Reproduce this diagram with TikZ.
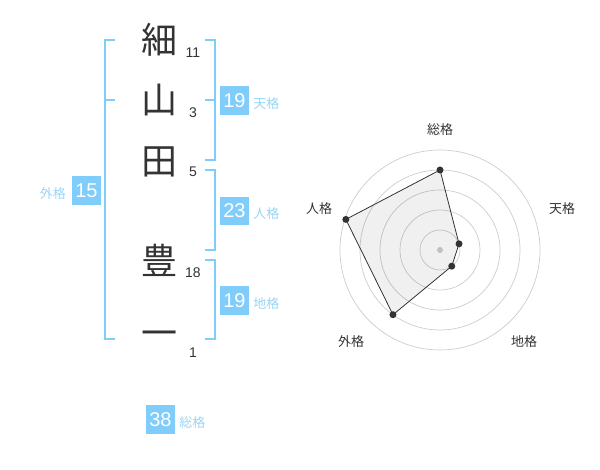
\documentclass[tikz,border=0pt]{standalone}
\usepackage{fontspec}
\setmainfont{Liberation Sans}
\newfontfamily\jpfont{Noto Sans CJK JP}
\usetikzlibrary{positioning}

\definecolor{kakublue}{HTML}{80CCFA}
\definecolor{kakutext}{HTML}{99D5F5}
\definecolor{ink}{HTML}{333333}
\definecolor{ringgray}{HTML}{CCCCCC}

\begin{document}
\begin{tikzpicture}[x=1pt, y=-1pt]
\tikzstyle{kanji}=[font=\jpfont\fontsize{36}{36}\selectfont, text=ink, inner sep=0pt]
\tikzstyle{stroke}=[font=\fontsize{14}{14}\selectfont, text=ink, inner sep=0pt]
\tikzstyle{kaku}=[fill=kakublue, text=white, font=\fontsize{20}{20}\selectfont, minimum size=28.7pt, inner sep=0pt]
\tikzstyle{kakuname}=[font=\jpfont\fontsize{13}{13}\selectfont, text=kakutext, inner sep=0pt]
\tikzstyle{bracket}=[draw=kakublue, line width=2pt]
\tikzstyle{ring}=[draw=ringgray, line width=0.7pt]
\tikzstyle{axisname}=[font=\jpfont\fontsize{13}{13}\selectfont, text=ink, inner sep=0pt]

\useasboundingbox (0,0) rectangle (600,470);

% name
\node[kanji] (c1) at (159,40)  {細};
\node[kanji] (c2) at (159,100) {山};
\node[kanji] (c3) at (159,162) {田};
\node[kanji] (c4) at (159,260) {豊};
\node[kanji] (c5) at (159,339) {一};

\node[stroke] (n1) at (193,53)  {11};
\node[stroke] (n2) at (193,113) {3};
\node[stroke] (n3) at (193,172) {5};
\node[stroke] (n4) at (193,273) {18};
\node[stroke] (n5) at (193,353) {1};

% brackets
\draw[bracket] (115,40) -- (105,40) -- (105,339) -- (115,339);
\draw[bracket] (105,100) -- (115,100);
\draw[bracket] (205,40) -- (214.5,40) -- (214.5,160) -- (205,160);
\draw[bracket] (205,100) -- (214.5,100);
\draw[bracket] (205,170) -- (214.5,170) -- (214.5,250) -- (205,250);
\draw[bracket] (205,260) -- (214.5,260) -- (214.5,339) -- (205,339);

% kaku boxes
\node[kaku] (ten)  at (234.5,100.5) {19};
\node[kaku] (jin)  at (234.5,211)   {23};
\node[kaku] (chi)  at (234.5,300.5) {19};
\node[kaku] (gai)  at (86.5,190.5)  {15};
\node[kaku] (sou)  at (160.5,419.5) {38};

\node[kakuname, right=4pt of ten, yshift=-3pt] (tenl) {天格};
\node[kakuname, right=4pt of jin, yshift=-3pt] (jinl) {人格};
\node[kakuname, right=4pt of chi, yshift=-3pt] (chil) {地格};
\node[kakuname, left=6pt of gai, yshift=-3pt]  (gail) {外格};
\node[kakuname, right=4pt of sou, yshift=-3pt] (soul) {総格};

% radar
\begin{scope}[shift={(440,250)}, y=1pt]
\foreach \r in {20,40,...,100}
	\draw[ring] (0,0) circle (\r);
\fill[ringgray] (0,0) circle (3);

\coordinate (psou) at (90:80);
\coordinate (pten) at (18:20);
\coordinate (pchi) at (-54:20);
\coordinate (pgai) at (-126:80);
\coordinate (pjin) at (162:99);

\filldraw[fill=black, fill opacity=0.06, draw=ink, line width=0.8pt]
	(psou) -- (pten) -- (pchi) -- (pgai) -- (pjin) -- cycle;
\foreach \p in {psou,pten,pchi,pgai,pjin}
	\fill[ink] (\p) circle (3.5);

\node[axisname] (asou) at (0,120)      {総格};
\node[axisname] (aten) at (122,41.3)   {天格};
\node[axisname] (achi) at (84,-92)     {地格};
\node[axisname] (agai) at (-89,-92)    {外格};
\node[axisname] (ajin) at (-121,41.3)  {人格};
\end{scope}

\end{tikzpicture}
\end{document}
